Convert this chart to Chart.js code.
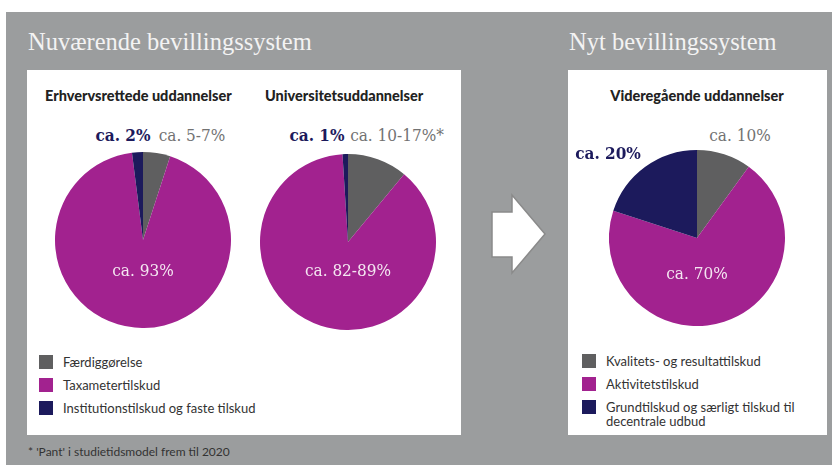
<!DOCTYPE html>
<html>
<head>
<meta charset="utf-8">
<script src="https://cdn.jsdelivr.net/npm/chart.js@4"></script>
<style>
  body { margin: 0; width: 832px; height: 465px; background: #fff; position: relative; overflow: hidden; font-family: Lato, "Open Sans", sans-serif; }
  #bg { position: absolute; left: 6px; top: 12px; width: 826px; height: 453px; background: #9b9d9e; }
  .big { position: absolute; font-family: "Liberation Serif", serif; font-size: 24.5px; color: #f3f3f3; top: 28px; }
  .panel { position: absolute; background: #fff; top: 70px; height: 365px; }
  .ptitle { position: absolute; font-weight: 900; font-size: 14.5px; color: #222; top: 87px; white-space: nowrap; }
  .lab { position: absolute; font-family: "DejaVu Serif Condensed", "DejaVu Serif", serif; font-size: 17px; white-space: nowrap; transform: translate(-50%, -50%); }
  .pie { position: absolute; width: 176px; height: 176px; }
  .legend { position: absolute; font-size: 13px; color: #333; }
  .legend div { position: relative; padding-left: 24px; line-height: 14px; margin-bottom: 9px; }
  .legend span { position: absolute; left: 0; top: 0; width: 14px; height: 14px; }
  #foot { position: absolute; left: 28px; top: 444px; font-size: 12px; color: #333; }
</style>
</head>
<body>
<div id="bg"></div>
<div class="big" style="left:28px">Nuværende bevillingssystem</div>
<div class="big" style="left:569px">Nyt bevillingssystem</div>
<div class="panel" style="left:27px; width:434px"></div>
<div class="panel" style="left:568px; width:259px"></div>

<div class="ptitle" style="left:45px">Erhvervsrettede uddannelser</div>
<div class="ptitle" style="left:265px">Universitetsuddannelser</div>
<div class="ptitle" style="left:697px; transform:translateX(-50%)">Videregående uddannelser</div>

<canvas id="pie1" class="pie" style="left:55px; top:152px"></canvas>
<canvas id="pie2" class="pie" style="left:260px; top:154px"></canvas>
<canvas id="pie3" class="pie" style="left:609px; top:150px"></canvas>

<div id="labels"></div>

<svg style="position:absolute; left:488px; top:190px" width="64" height="90">
  <polygon points="4,22 24,22 24,5 57,44 24,83 24,67 4,67" fill="#fff" stroke="#8a8a8a" stroke-width="1.5"/>
</svg>

<div id="legend1" class="legend" style="left:39px; top:355px"></div>
<div id="legend2" class="legend" style="left:582px; top:354px"></div>
<div id="foot">* 'Pant' i studietidsmodel frem til 2020</div>

<script>
// Colours of the three funding components
const colGrey = '#5f5f60';
const colMagenta = '#a2228f';
const colNavy = '#1c1a5c';

// Slice order: grey, magenta, navy (clockwise from 12 o'clock)
const sliceColors = [colGrey, colMagenta, colNavy];

const oldLegend = ['Færdiggørelse', 'Taxametertilskud', 'Institutionstilskud og faste tilskud'];
const newLegend = ['Kvalitets- og resultattilskud', 'Aktivitetstilskud', 'Grundtilskud og særligt tilskud til decentrale udbud'];

// Approximate shares
const erhvervValues = [5, 93, 2];
const universitetValues = [11, 88, 1];
const videregaaendeValues = [10, 70, 20];

// Label texts
const erhvervLabels = ['ca. 5-7%', 'ca. 93%', 'ca. 2%'];
const universitetLabels = ['ca. 10-17%*', 'ca. 82-89%', 'ca. 1%'];
const videregaaendeLabels = ['ca. 10%', 'ca. 70%', 'ca. 20%'];

/**
 * Draw one pie
 */
function makePie(id, values) {
    const ctx = document.getElementById(id).getContext('2d');
    return new Chart(ctx, {
        type: 'pie',
        data: {
            labels: ['a', 'b', 'c'],
            datasets: [{
                data: values,
                backgroundColor: sliceColors,
                borderWidth: 0
            }]
        },
        options: {
            responsive: false,
            animation: false,
            layout: { padding: 0 },
            plugins: {
                legend: { display: false },
                tooltip: { enabled: false }
            }
        }
    });
}

makePie('pie1', erhvervValues);
makePie('pie2', universitetValues);
makePie('pie3', videregaaendeValues);

/**
 * Place the percentage labels
 */
function addLabel(text, x, y, color, bold) {
    const el = document.createElement('div');
    el.className = 'lab';
    el.textContent = text;
    el.style.left = x + 'px';
    el.style.top = y + 'px';
    el.style.color = color;
    if (bold) el.style.fontWeight = 'bold';
    document.getElementById('labels').appendChild(el);
}

addLabel(erhvervLabels[2], 123, 135, colNavy, true);
addLabel(erhvervLabels[0], 192, 135, '#727272', false);
addLabel(erhvervLabels[1], 143, 270, '#f4e6f1', false);

addLabel(universitetLabels[2], 317, 135, colNavy, true);
addLabel(universitetLabels[0], 397, 135, '#727272', false);
addLabel(universitetLabels[1], 348, 270, '#f4e6f1', false);

addLabel(videregaaendeLabels[0], 740, 135, '#727272', false);
addLabel(videregaaendeLabels[2], 608, 153, colNavy, true);
addLabel(videregaaendeLabels[1], 697, 273, '#f4e6f1', false);

/**
 * Build legend
 */
function buildLegend(id, names, width) {
    let html = '';
    names.forEach((name, i) => {
        html += `<div style="width:${width}px"><span style="background:${sliceColors[i]}"></span>${name}</div>`;
    });
    document.getElementById(id).innerHTML = html;
}

buildLegend('legend1', oldLegend, 300);
buildLegend('legend2', newLegend, 215);
</script>
</body>
</html>
